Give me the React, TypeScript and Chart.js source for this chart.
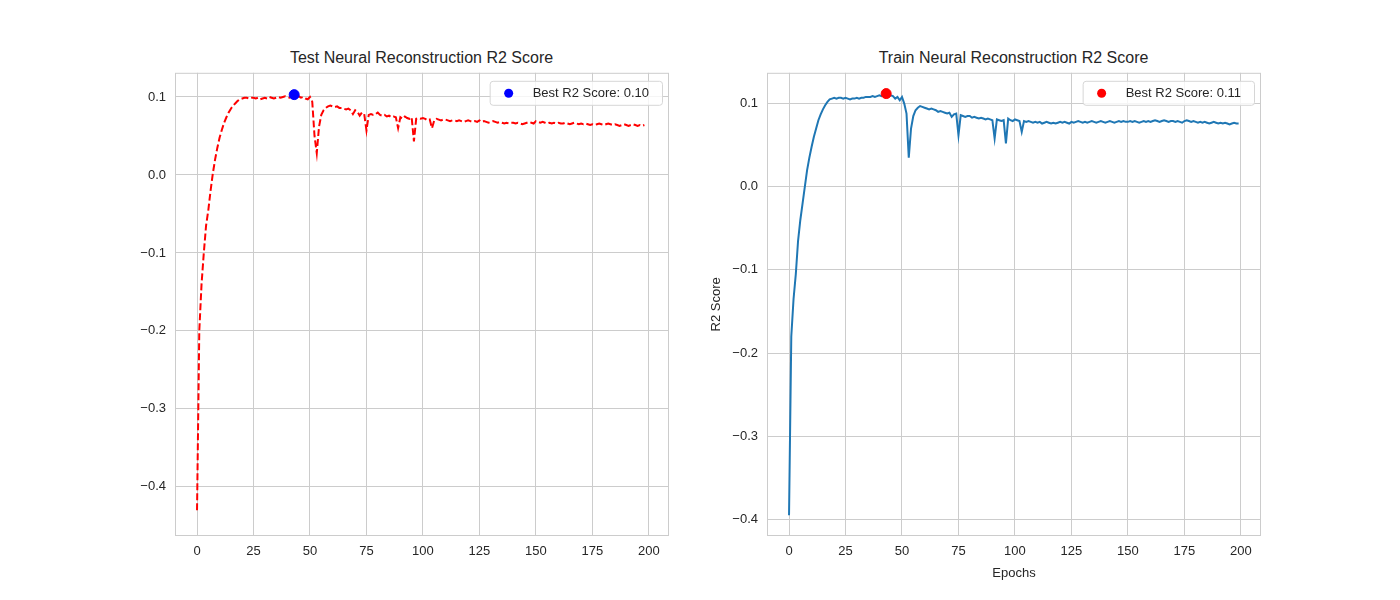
import { useEffect, useRef } from "react"
import { Chart, registerables } from "chart.js"

Chart.register(...registerables)

const testR2 = [
  -0.43, -0.2, -0.14, -0.1, -0.065, -0.045, -0.02, 0.002, 0.02, 0.035,
  0.048, 0.058, 0.067, 0.074, 0.08, 0.085, 0.089, 0.092, 0.095, 0.097,
  0.098, 0.099, 0.099, 0.098, 0.099, 0.099, 0.098, 0.099, 0.097, 0.098,
  0.099, 0.098, 0.1, 0.099, 0.098, 0.099, 0.1, 0.099, 0.1, 0.101,
  0.1, 0.099, 0.101, 0.103, 0.1, 0.101, 0.099, 0.1, 0.098, 0.097,
  0.1, 0.094, 0.05, 0.028, 0.062, 0.077, 0.083, 0.086, 0.088, 0.089,
  0.088, 0.087, 0.088, 0.086, 0.086, 0.085, 0.084, 0.085, 0.083, 0.078,
  0.083, 0.081, 0.076, 0.08, 0.078, 0.057, 0.077, 0.078, 0.077, 0.078,
  0.08, 0.077, 0.076, 0.077, 0.075, 0.076, 0.074, 0.075, 0.074, 0.06,
  0.074, 0.072, 0.075, 0.073, 0.072, 0.074, 0.043, 0.072, 0.073, 0.072,
  0.073, 0.072, 0.07, 0.071, 0.06, 0.07, 0.072, 0.071, 0.07, 0.071,
  0.071, 0.07, 0.069, 0.07, 0.07, 0.069, 0.07, 0.069, 0.068, 0.069,
  0.07, 0.069, 0.068, 0.069, 0.068, 0.07, 0.068, 0.069, 0.068, 0.067,
  0.068, 0.069, 0.068, 0.067, 0.068, 0.067, 0.066, 0.067, 0.066, 0.067,
  0.067, 0.066, 0.067, 0.066, 0.065, 0.066, 0.067, 0.068, 0.067, 0.066,
  0.069, 0.068, 0.067, 0.068, 0.067, 0.066, 0.067, 0.066, 0.067, 0.066,
  0.067, 0.066, 0.066, 0.067, 0.066, 0.065, 0.066, 0.067, 0.066, 0.065,
  0.066, 0.065, 0.066, 0.065, 0.064, 0.065, 0.064, 0.065, 0.066, 0.065,
  0.064, 0.065, 0.066, 0.065, 0.064, 0.065, 0.064, 0.063, 0.064, 0.065,
  0.064, 0.063, 0.064, 0.065, 0.064, 0.063, 0.064, 0.063, 0.064,
]

const trainR2 = [
  -0.395, -0.18, -0.135, -0.105, -0.065, -0.04, -0.02, 0.0, 0.02, 0.035,
  0.048, 0.06, 0.07, 0.08, 0.087, 0.093, 0.098, 0.102, 0.105, 0.106,
  0.107, 0.106, 0.107, 0.107, 0.106, 0.107, 0.106, 0.105, 0.106, 0.106,
  0.107, 0.106, 0.107, 0.107, 0.108, 0.108, 0.108, 0.109, 0.108, 0.109,
  0.11, 0.109, 0.11, 0.112, 0.108, 0.11, 0.109, 0.106, 0.108, 0.104,
  0.108, 0.1, 0.088, 0.035, 0.07, 0.085, 0.092, 0.095, 0.097, 0.096,
  0.095, 0.094, 0.093, 0.094, 0.093, 0.092, 0.09, 0.091, 0.09, 0.089,
  0.088, 0.089, 0.084, 0.087, 0.088, 0.062, 0.086, 0.085, 0.084, 0.085,
  0.085, 0.083, 0.084, 0.083, 0.082, 0.083, 0.082, 0.081, 0.082, 0.081,
  0.08, 0.058, 0.081, 0.08, 0.079, 0.08, 0.052, 0.082, 0.08, 0.079,
  0.081, 0.08, 0.079, 0.066, 0.079, 0.078, 0.079, 0.078, 0.077, 0.078,
  0.077, 0.078, 0.076, 0.077, 0.078, 0.077, 0.076, 0.077, 0.076, 0.077,
  0.078, 0.077, 0.078, 0.077, 0.076, 0.078, 0.077, 0.078, 0.079, 0.078,
  0.077, 0.078, 0.077, 0.078, 0.079, 0.078, 0.077, 0.078, 0.079, 0.078,
  0.077, 0.078, 0.079, 0.078, 0.077, 0.078, 0.079, 0.078, 0.079, 0.078,
  0.078, 0.079, 0.078, 0.079, 0.078, 0.077, 0.078, 0.079, 0.078, 0.079,
  0.078, 0.079, 0.08, 0.079, 0.078, 0.079, 0.08, 0.079, 0.078, 0.079,
  0.079, 0.078, 0.079, 0.078, 0.077, 0.079, 0.08, 0.079, 0.078, 0.079,
  0.078, 0.077, 0.078, 0.077, 0.078, 0.077, 0.076, 0.077, 0.078, 0.077,
  0.076, 0.077, 0.076, 0.077, 0.076, 0.075, 0.076, 0.077, 0.076, 0.076,
]

const bestEpoch = [43, 43]
const bestTest = 0.103
const bestTrain = 0.112
const xTicks = [0, 25, 50, 75, 100, 125, 150, 175, 200]
const testYTicks = [-0.4, -0.3, -0.2, -0.1, 0.0, 0.1]
const trainYTicks = [-0.4, -0.3, -0.2, -0.1, 0.0, 0.1]

const FONT = "'Liberation Sans', Arial, sans-serif"
const GRID = "#cccccc"

const frame = {
  id: "frame",
  afterDraw(chart: any) {
    const { ctx, chartArea: a } = chart
    ctx.save()
    ctx.strokeStyle = GRID
    ctx.lineWidth = 1
    ctx.strokeRect(a.left + 0.5, a.top + 0.5, a.right - a.left - 1, a.bottom - a.top - 1)
    const lg = chart.options.plugins.bestLegend
    if (lg) {
      ctx.font = `13px ${FONT}`
      const tw = ctx.measureText(lg.text).width
      const w = tw + 56
      const h = 24
      const x = a.right - 7 - w
      const y = a.top + 8
      ctx.fillStyle = "rgba(255,255,255,0.8)"
      ctx.strokeStyle = "#d6d6d6"
      ctx.beginPath()
      ctx.roundRect(x + 0.5, y + 0.5, w, h, 3)
      ctx.fill()
      ctx.stroke()
      ctx.fillStyle = lg.color
      ctx.beginPath()
      ctx.arc(x + 19, y + h / 2 + 0.5, 4.5, 0, Math.PI * 2)
      ctx.fill()
      ctx.fillStyle = "#262626"
      ctx.textBaseline = "middle"
      ctx.fillText(lg.text, x + 43, y + h / 2 + 1)
    }
    ctx.restore()
  },
}

function makeChart(
  canvas: HTMLCanvasElement,
  values: number[],
  lineColor: string,
  dashed: boolean,
  best: number,
  epoch: number,
  dotColor: string,
  yMin: number,
  yMax: number,
  yTicks: number[],
  yWidth: number,
  legendText: string,
  xTitle: string,
  yTitle: string
) {
  return new Chart(canvas, {
    type: "line",
    data: {
      datasets: [
        {
          data: values.map((v, i) => ({ x: i, y: v })),
          borderColor: lineColor,
          borderWidth: 2,
          borderDash: dashed ? [7, 3] : [],
          pointRadius: 0,
          fill: false,
          order: 2,
        },
        {
          type: "scatter",
          data: [{ x: epoch, y: best }],
          backgroundColor: dotColor,
          borderColor: dotColor,
          pointRadius: 5,
          order: 1,
        } as any,
      ],
    },
    options: {
      animation: false,
      responsive: false,
      layout: { padding: 0 },
      plugins: {
        legend: { display: false },
        tooltip: { enabled: false },
        bestLegend: { text: legendText, color: dotColor },
      } as any,
      scales: {
        x: {
          type: "linear",
          min: -9.75,
          max: 208.9,
          afterBuildTicks: (s: any) => {
            s.ticks = xTicks.map((v) => ({ value: v }))
          },
          afterFit: (s: any) => {
            s.height = 45
          },
          grid: { color: GRID, drawTicks: false },
          border: { display: false },
          ticks: { color: "#262626", font: { family: FONT, size: 13 }, padding: 8, maxRotation: 0 },
          title: { display: !!xTitle, text: xTitle, color: "#262626", font: { family: FONT, size: 13 }, padding: 0 },
        },
        y: {
          type: "linear",
          min: yMin,
          max: yMax,
          afterBuildTicks: (s: any) => {
            s.ticks = yTicks.map((v) => ({ value: v }))
          },
          afterFit: (s: any) => {
            s.width = yWidth
          },
          grid: { color: GRID, drawTicks: false },
          border: { display: false },
          ticks: {
            color: "#262626",
            font: { family: FONT, size: 13 },
            padding: 9,
            callback: (v: any) => Number(v).toFixed(1).replace("-", "\u2212"),
          },
          title: { display: !!yTitle, text: yTitle, color: "#262626", font: { family: FONT, size: 13 }, padding: 4 },
        },
      },
    },
    plugins: [frame],
  })
}

const titleStyle = (left: number, width: number): React.CSSProperties => ({
  position: "absolute",
  left,
  width,
  top: 49,
  textAlign: "center",
  fontFamily: FONT,
  fontSize: 16,
  color: "#262626",
})

export default function App() {
  const leftRef = useRef<HTMLCanvasElement>(null)
  const rightRef = useRef<HTMLCanvasElement>(null)

  useEffect(() => {
    const charts: Chart[] = []
    if (leftRef.current) {
      charts.push(
        makeChart(leftRef.current, testR2, "#ff0000", true, bestTest, bestEpoch[0], "#0000ff",
          -0.463, 0.131, testYTicks, 75, "Best R2 Score: 0.10", "", "")
      )
    }
    if (rightRef.current) {
      charts.push(
        makeChart(rightRef.current, trainR2, "#1f77b4", false, bestTrain, bestEpoch[1], "#ff0000",
          -0.42, 0.137, trainYTicks, 62, "Best R2 Score: 0.11", "Epochs", "R2 Score")
      )
    }
    return () => charts.forEach((c) => c.destroy())
  }, [])

  return (
    <div style={{ position: "fixed", left: 0, top: 0, width: 1400, height: 600, background: "#fff" }}>
      <div style={titleStyle(175, 493)}>Test Neural Reconstruction R2 Score</div>
      <div style={titleStyle(767, 493)}>Train Neural Reconstruction R2 Score</div>
      <canvas ref={leftRef} width={575} height={525} style={{ position: "absolute", left: 100, top: 56 }} />
      <canvas ref={rightRef} width={562} height={525} style={{ position: "absolute", left: 705, top: 56 }} />
    </div>
  )
}
